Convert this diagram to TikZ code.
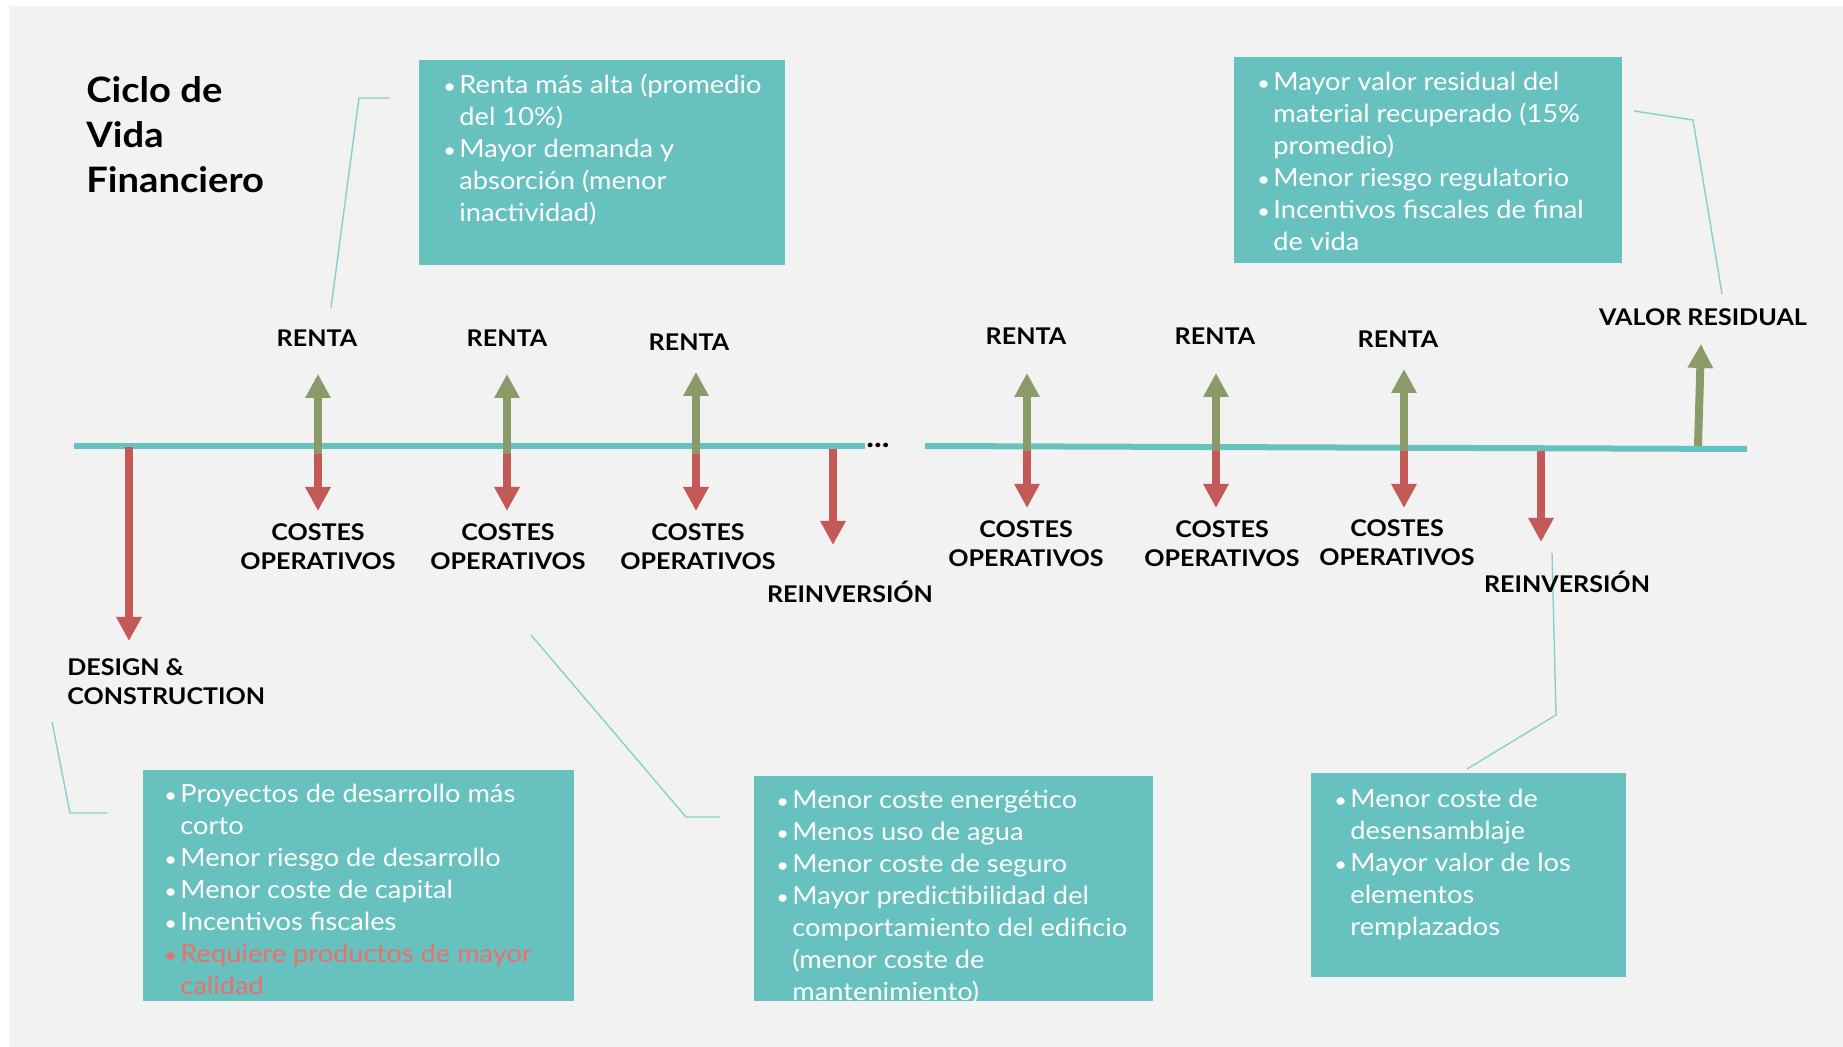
\documentclass[tikz,border=0pt]{standalone}
\usepackage{fontspec}
\setmainfont{Lato}[FakeStretch=1.09]
\usepackage{tikz}
\usetikzlibrary{arrows.meta}

\definecolor{bggray}{HTML}{F2F2F2}
\definecolor{boxteal}{HTML}{67C1BE}
\definecolor{leadteal}{HTML}{86D1CC}
\definecolor{upgreen}{HTML}{8A9A68}
\definecolor{downred}{HTML}{C45A58}
\definecolor{coral}{HTML}{EC6F6B}

\newcommand{\bul}{\makebox[8pt][l]{\scalebox{0.8}{\textbullet}}}
\newcommand{\ind}{\hspace*{8pt}}

\begin{document}
\begin{tikzpicture}[x=0.5pt,y=-0.5pt,
    box/.style={fill=boxteal,inner sep=0,anchor=north west},
    txt/.style={text=white,font=\fontsize{12.5}{16}\selectfont,align=left,inner sep=0,anchor=north west},
    lab/.style={font=\fontsize{11.5}{14.5}\selectfont\bfseries,align=center,inner sep=0},
    lead/.style={leadteal,line width=0.7pt},
    tl/.style={boxteal,line width=3pt},
    up/.style={upgreen,line width=4pt,-{Triangle[width=12pt,length=12pt]}},
    down/.style={downred,line width=4pt,-{Triangle[width=12pt,length=12pt]}}]
  \useasboundingbox (0,0) rectangle (1843,1047);
  \fill[white] (0,0) rectangle (1843,1047);
  \fill[bggray] (9,6) rectangle (1843,1047);

  % title
  \node[font=\fontsize{17.5}{22.5}\selectfont\bfseries,align=left,inner sep=0,anchor=north west] (title) at (86,70.5) {\strut Ciclo de\\Vida\\Financiero};

  % boxes
  \node[box,minimum width=183pt,minimum height=102.5pt] (b1) at (419,60) {};
  \node[box,minimum width=194pt,minimum height=103pt] (b2) at (1234,57) {};
  \node[box,minimum width=215.5pt,minimum height=115.5pt] (b3) at (143,770) {};
  \node[box,minimum width=199.5pt,minimum height=112.5pt] (b4) at (754,776) {};
  \node[box,minimum width=157.5pt,minimum height=102pt] (b5) at (1311,773) {};

  \node[txt] (t1) at (443,70.6) {\strut\bul Renta más alta (promedio\\\ind del 10\%)\\\bul Mayor demanda y\\\ind absorción (menor\\\ind inactividad)};
  \node[txt] (t2) at (1257,67.6) {\strut\bul Mayor valor residual del\\\ind material recuperado (15\%\\\ind promedio)\\\bul Menor riesgo regulatorio\\\bul Incentivos fiscales de final\\\ind de vida};
  \node[txt] (t3) at (164,779.6) {\strut\bul Proyectos de desarrollo más\\\ind corto\\\bul Menor riesgo de desarrollo\\\bul Menor coste de capital\\\bul Incentivos fiscales\\\textcolor{coral}{\bul Requiere productos de mayor}\\\textcolor{coral}{\ind calidad}};
  \node[txt] (t4) at (776,785.6) {\strut\bul Menor coste energético\\\bul Menos uso de agua\\\bul Menor coste de seguro\\\bul Mayor predictibilidad del\\\ind comportamiento del edificio\\\ind (menor coste de\\\ind mantenimiento)};
  \node[txt] (t5) at (1334,784.6) {\strut\bul Menor coste de\\\ind desensamblaje\\\bul Mayor valor de los\\\ind elementos\\\ind remplazados};

  % leaders
  \coordinate (l1a) at (390,98);   \coordinate (l1b) at (359,98);   \coordinate (l1c) at (331,308);
  \coordinate (l2a) at (1634,111); \coordinate (l2b) at (1693,120); \coordinate (l2c) at (1722,294);
  \coordinate (l3a) at (52,722);   \coordinate (l3b) at (70,813);   \coordinate (l3c) at (107,813);
  \coordinate (l4a) at (531,635);  \coordinate (l4b) at (686,817);  \coordinate (l4c) at (720,817);
  \coordinate (l5a) at (1552,553); \coordinate (l5b) at (1556,715); \coordinate (l5c) at (1467,769);
  \draw[lead] (l1a) -- (l1b) -- (l1c);
  \draw[lead] (l2a) -- (l2b) -- (l2c);
  \draw[lead] (l3a) -- (l3b) -- (l3c);
  \draw[lead] (l4a) -- (l4b) -- (l4c);
  \draw[lead] (l5a) -- (l5b) -- (l5c);

  % timeline
  \coordinate (tlA) at (74,446);  \coordinate (tlB) at (865,446);
  \coordinate (tlC) at (925,446); \coordinate (tlD) at (1747,449);
  \draw[tl] (tlA) -- (tlB);
  \draw[tl] (tlC) -- (tlD);
  \node[lab,font=\fontsize{15}{15}\selectfont\bfseries,anchor=base west] (dots) at (866,448) {...};

  % cash flows
  \coordinate (d0) at (129,447);  \coordinate (d0t) at (129,641);
  \coordinate (p1) at (318,454);  \coordinate (p1u) at (318,374);  \coordinate (p1d) at (318,511);
  \coordinate (p2) at (507,454);  \coordinate (p2u) at (507,374);  \coordinate (p2d) at (507,511);
  \coordinate (p3) at (696,454);  \coordinate (p3u) at (696,372);  \coordinate (p3d) at (696,511);
  \coordinate (q1) at (833,449);  \coordinate (q1t) at (833,545);
  \coordinate (p4) at (1027,451); \coordinate (p4u) at (1027,373); \coordinate (p4d) at (1027,508);
  \coordinate (p5) at (1216,451); \coordinate (p5u) at (1216,373); \coordinate (p5d) at (1216,508);
  \coordinate (p6) at (1404,451); \coordinate (p6u) at (1404,369); \coordinate (p6d) at (1404,508);
  \coordinate (q2) at (1541,451); \coordinate (q2t) at (1541,542);
  \coordinate (v) at (1698,446);  \coordinate (vt) at (1701,344);
  \draw[down] (d0) -- (d0t);
  \draw[up] (p1) -- (p1u);  \draw[down] (p1) -- (p1d);
  \draw[up] (p2) -- (p2u);  \draw[down] (p2) -- (p2d);
  \draw[up] (p3) -- (p3u);  \draw[down] (p3) -- (p3d);
  \draw[down] (q1) -- (q1t);
  \draw[up] (p4) -- (p4u);  \draw[down] (p4) -- (p4d);
  \draw[up] (p5) -- (p5u);  \draw[down] (p5) -- (p5d);
  \draw[up] (p6) -- (p6u);  \draw[down] (p6) -- (p6d);
  \draw[down] (q2) -- (q2t);
  \draw[up] (v) -- (vt);

  % labels
  \node[lab,anchor=base] (r1) at (317,347) {RENTA};
  \node[lab,anchor=base] (r2) at (507,347) {RENTA};
  \node[lab,anchor=base] (r3) at (689,351) {RENTA};
  \node[lab,anchor=base] (r4) at (1026,345) {RENTA};
  \node[lab,anchor=base] (r5) at (1215,345) {RENTA};
  \node[lab,anchor=base] (r6) at (1398,348) {RENTA};
  \node[lab,anchor=north] (c1) at (318,519.7) {\strut COSTES\\OPERATIVOS};
  \node[lab,anchor=north] (c2) at (508,519.7) {\strut COSTES\\OPERATIVOS};
  \node[lab,anchor=north] (c3) at (698,519.7) {\strut COSTES\\OPERATIVOS};
  \node[lab,anchor=north] (c4) at (1026,516.7) {\strut COSTES\\OPERATIVOS};
  \node[lab,anchor=north] (c5) at (1222,516.7) {\strut COSTES\\OPERATIVOS};
  \node[lab,anchor=north] (c6) at (1397,515.7) {\strut COSTES\\OPERATIVOS};
  \node[lab,anchor=base] (ri1) at (850,603) {REINVERSIÓN};
  \node[lab,anchor=base] (ri2) at (1567,593) {REINVERSIÓN};
  \node[lab,anchor=base] (vr) at (1703,326) {VALOR RESIDUAL};
  \node[lab,align=left,anchor=north west] (dc) at (67,654.7) {\strut DESIGN \&\\CONSTRUCTION};
\end{tikzpicture}
\end{document}
